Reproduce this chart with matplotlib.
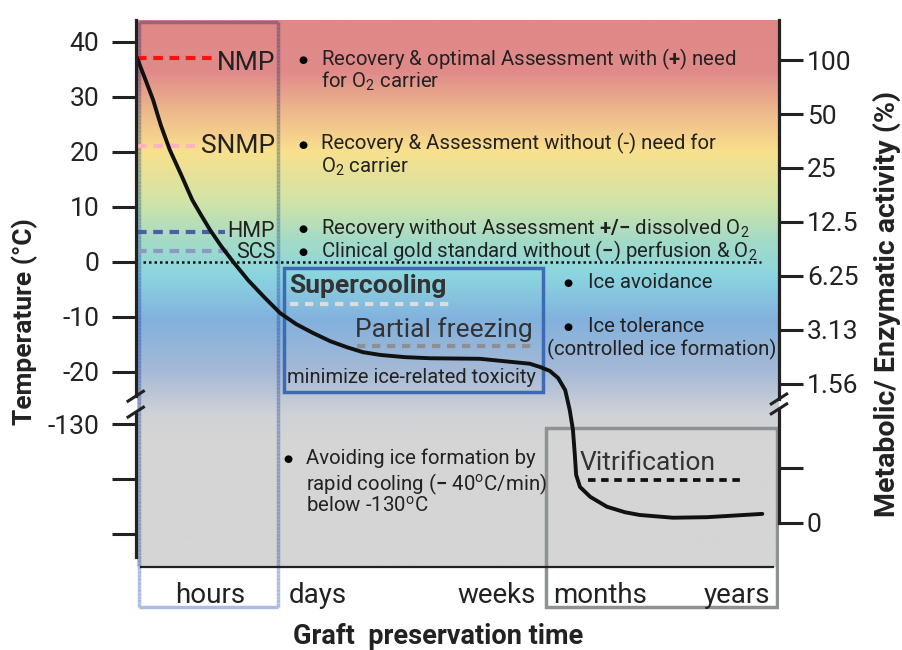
import numpy as np
import matplotlib
matplotlib.use('Agg')
import matplotlib.pyplot as plt
from matplotlib.colors import LinearSegmentedColormap
from matplotlib.collections import LineCollection
from matplotlib.patches import Rectangle

plt.rcParams['font.family'] = ['Roboto', 'DejaVu Sans']
plt.rcParams['mathtext.fontset'] = 'custom'
plt.rcParams['mathtext.rm'] = 'Roboto'
plt.rcParams['mathtext.it'] = 'Roboto:italic'
plt.rcParams['mathtext.bf'] = 'Roboto:bold'

INK = '#222222'

# left axis: temperature (the part below the break is shifted up)
temp_ticks = [40, 30, 20, 10, 0, -10, -20, -130, -140, -150]
temp_labels = ['40', '30', '20', '10', '0', '-10', '-20', '-130', '', '']
BREAK_SHIFT = 100.5

# right axis: metabolic activity, halving every step
activity = [100, 50, 25, 12.5, 6.25, 3.125, 1.5625]
activity_labels = ['100', '50', '25', '12.5', '6.25', '3.13', '1.56']

# perfusion methods
methods = ['NMP', 'SNMP', 'HMP', 'SCS']
method_temp = [37, 21, 5.5, 2]
method_colors = ['#FF1010', '#FFB3BE', '#4E5EA6', '#8D99C0']

# time categories
time_labels = ['hours', 'days', 'weeks', 'months', 'years']

# graft temperature along preservation time (plot units)
curve_t = [0, 0.12, 0.25, 0.37, 0.51, 0.69, 0.86, 1.00, 1.14, 1.31, 1.50, 1.73,
           1.99, 2.23, 2.48, 2.74, 3.01, 3.27, 3.52, 3.79, 4.17, 4.56, 5.34,
           5.86, 6.12, 6.28, 6.43, 6.56, 6.67, 6.74, 6.79, 6.82, 6.84, 6.90,
           7.06, 7.32, 7.60, 7.83, 8.35, 8.88, 9.74]
curve_temp = [37.1, 33.5, 29.5, 24.9, 20.4, 15.8, 11.3, 8.5, 5.8, 2.9, 0, -3.3,
              -6.5, -9.3, -11.3, -12.9, -14.4, -15.5, -16.4, -16.9, -17.3, -17.5, -17.6,
              -18.2, -18.5, -19.1, -19.8, -21.1, -23.3, -26.9, -30.5, -35.1, -38.7, -40.9,
              -42.7, -44.5, -45.5, -46.0, -46.5, -46.4, -45.8]


def to_plot(t):
    return t if t > -25 else t + BREAK_SHIFT


def act_pos(v):
    return 36.7 - 9.8 * np.log2(100 / v)


fig = plt.figure(figsize=(9.03, 6.5), dpi=100)
ax = fig.add_axes([137 / 903, 38 / 650, 642 / 903, 592 / 650])
YMIN, YMAX = -63.64, 44.0
GB, GT = -55.45, 44.0

# background gradient
stops = [(-55.45, '#D5D5D5'), (-32.4, '#D5D5D5'), (-27.8, '#CFD2D7'),
         (-19.6, '#A4B9D6'), (-10.5, '#82B1DD'), (-2.4, '#8BD5E0'),
         (4.0, '#A4DBC6'), (11.3, '#D2E4A6'), (20.4, '#F9E08D'),
         (27.6, '#EDB88C'), (34.9, '#E08A8A'), (44.0, '#E08888')]
bg_cmap = LinearSegmentedColormap.from_list(
    'bg', [((y - GB) / (GT - GB), c) for y, c in stops])
grad = np.linspace(0, 1, 500)[:, None]
ax.imshow(grad, extent=[0, 10, GB, GT], origin='lower', aspect='auto',
          cmap=bg_cmap, interpolation='bilinear', zorder=0)


def bg_rgb(y):
    if y < GB:
        return np.ones(3)
    return np.array(bg_cmap((y - GB) / (GT - GB))[:3])


# hours box, edge tinted by what lies under it
tint = np.array([172, 188, 228]) / 255
x0, x1, yt, yb = 0.03, 2.20, 43.6, -62.7
segs, cols = [], []
ys = np.linspace(yt, yb, 160)
for xs in (x0, x1):
    for a, b in zip(ys[:-1], ys[1:]):
        segs.append([(xs, a), (xs, b)])
        cols.append(bg_rgb((a + b) / 2) * tint)
segs.append([(x0, yt), (x1, yt)])
cols.append(bg_rgb(yt) * tint)
segs.append([(x0, yb), (x1, yb)])
cols.append(tint)
ax.add_collection(LineCollection(segs, colors=cols, linewidths=2.5, zorder=3))

# supercooling box and months box
ax.add_patch(Rectangle((2.29, -23.6), 6.32 - 2.29, 22.5, fill=False,
                       edgecolor='#3D6BB3', lw=2.5, zorder=3))
ax.add_patch(Rectangle((6.37, -62.7), 9.97 - 6.37, 32.5, fill=False,
                       edgecolor='#8E9292', lw=2.5, zorder=3))

# bottom line and zero line
ax.plot([0.06, 9.91], [GB, GB], color=INK, lw=1.6, zorder=4)
ax.plot([0.09, 9.72], [0, 0], color='#111111', lw=1.8, ls=(0, (1, 1.2)), zorder=4)

# method levels
method_end = [1.18, 0.90, 1.37, 1.48]
method_base = [34.9, 19.8, 4.5, 0.7]
method_size = [19, 19, 15.5, 15.5]
for name, t, c, xe, yb_, fs in zip(methods, method_temp, method_colors,
                                   method_end, method_base, method_size):
    ax.plot([0, xe], [t, t], color=c, lw=3, dashes=(2.3, 1.6), zorder=4)
    ax.text(2.15, yb_, name, ha='right', va='baseline', fontsize=fs, color=INK, zorder=5)

# curve
ax.plot(curve_t, curve_temp, color='#111111', lw=2.8, solid_joinstyle='round',
        solid_capstyle='round', zorder=6)

# bullets
FS = 14.7


def bullet(x, y):
    ax.text(x, y + 0.35, '●', ha='center', va='baseline', fontsize=7.5,
            family='DejaVu Sans', color='black', zorder=5)


bullets = [
    (35.8, [r'Recovery & optimal Assessment with ($\mathbf{{+}}$) need', r'for O$_2$ carrier']),
    (20.4, ['Recovery & Assessment without (-) need for', r'O$_2$ carrier']),
    (5.05, [r'Recovery without Assessment $\mathbf{{+}/{-}}$ dissolved O$_2$']),
    (0.9, [r'Clinical gold standard without ($\mathbf{{-}}$) perfusion & O$_2$']),
]
for yb_, lines in bullets:
    bullet(2.58, yb_)
    for i, line in enumerate(lines):
        ax.text(2.87, yb_ - i * 4.2, line, ha='left', va='baseline',
                fontsize=FS, color=INK, zorder=5)

bullet(6.71, -4.73)
ax.text(7.02, -4.73, 'Ice avoidance', ha='left', va='baseline', fontsize=FS, color=INK)
bullet(6.71, -12.7)
ax.text(7.02, -12.7, 'Ice tolerance', ha='left', va='baseline', fontsize=FS, color=INK)
ax.text(6.39, -16.9, '(controlled ice formation)', ha='left', va='baseline',
        fontsize=FS, color=INK)

bullet(2.35, -36.7)
ax.text(2.64, -36.7, 'Avoiding ice formation by', ha='left', va='baseline',
        fontsize=FS, color=INK)
ax.text(2.64, -41.45, r'rapid cooling ($\mathbf{{-}}$ 40$^{\mathrm{o}}$C/min)', ha='left',
        va='baseline', fontsize=FS, color=INK)
ax.text(2.64, -45.45, r'below -130$^{\mathrm{o}}$C', ha='left', va='baseline',
        fontsize=FS, color=INK)

# supercooling / partial freezing / vitrification
ax.text(2.37, -5.7, 'Supercooling', fontweight='bold', fontsize=19, color='#333333',
        ha='left', va='baseline', zorder=5)
ax.plot([2.39, 4.88], [-7.7, -7.7], color='#DCDCDC', lw=3, dashes=(2, 1.6), zorder=4)
ax.text(3.40, -13.6, 'Partial freezing', fontsize=19, color='#333333',
        ha='left', va='baseline', zorder=5)
ax.plot([3.42, 6.14], [-15.3, -15.3], color='#8F8F8F', lw=3, dashes=(2, 1.6), zorder=4)
ax.text(2.34, -22.05, 'minimize ice-related toxicity', fontsize=14.5, color=INK,
        ha='left', va='baseline', zorder=5)
ax.text(6.90, -37.8, 'Vitrification', fontsize=19, color='#333333',
        ha='left', va='baseline', zorder=5)
ax.plot([7.03, 9.44], [-39.6, -39.6], color='#111111', lw=2.7, dashes=(2, 1.5), zorder=4)

# time labels
for lab, xp in zip(time_labels, [1.14, 2.81, 5.6, 7.22, 9.35]):
    ax.text(xp, -62.0, lab, ha='center', va='baseline', fontsize=20, color=INK)

# left axis
ax.set_xlim(0, 10)
ax.set_ylim(YMIN, YMAX)
for s in ax.spines.values():
    s.set_visible(False)
ax.set_xticks([])
ax.set_yticks([to_plot(t) for t in temp_ticks], temp_labels)
ax.tick_params(axis='y', length=18, width=2.2, color=INK, labelsize=19,
               labelcolor=INK, pad=9)
ax.plot([-0.02, -0.02], [44.0, -24.4], color=INK, lw=2.3, clip_on=False, zorder=7)
ax.plot([-0.02, -0.02], [-27.3, -53.6], color=INK, lw=2.3, clip_on=False, zorder=7)
for yc in (-24.4, -27.3):
    ax.plot([-0.14, 0.10], [yc - 0.9, yc + 0.9], color=INK, lw=2.2, clip_on=False, zorder=7)

# right axis
ax2 = ax.twinx()
ax2.set_ylim(YMIN, YMAX)
for s in ax2.spines.values():
    s.set_visible(False)
ax2.set_yticks([act_pos(v) for v in activity] + [-37.45, -47.45],
               activity_labels + ['', '0'])
ax2.tick_params(axis='y', length=17, width=2.2, color=INK, labelsize=19,
                labelcolor=INK, pad=3)
ax2.plot([10, 10], [44.0, -24.9], color=INK, lw=2.3, clip_on=False, zorder=7)
ax2.plot([10, 10], [-26.7, -47.45], color=INK, lw=2.3, clip_on=False, zorder=7)
for yc in (-24.9, -26.7):
    ax2.plot([9.88, 10.12], [yc - 0.9, yc + 0.9], color=INK, lw=2.2, clip_on=False, zorder=7)

# axis titles
fig.text(25 / 903, 1 - 322 / 650, 'Temperature (°C)', rotation=90, ha='center',
         va='center', fontsize=19, fontweight='bold', color=INK)
fig.text(887 / 903, 1 - 304 / 650, 'Metabolic/ Enzymatic activity (%)', rotation=90,
         ha='center', va='center', fontsize=20.5, fontweight='bold', color=INK)
fig.text(438 / 903, 1 - 644 / 650, 'Graft  preservation time', ha='center',
         va='baseline', fontsize=19.5, fontweight='bold', color=INK)

fig.savefig('out.png', dpi=100)
